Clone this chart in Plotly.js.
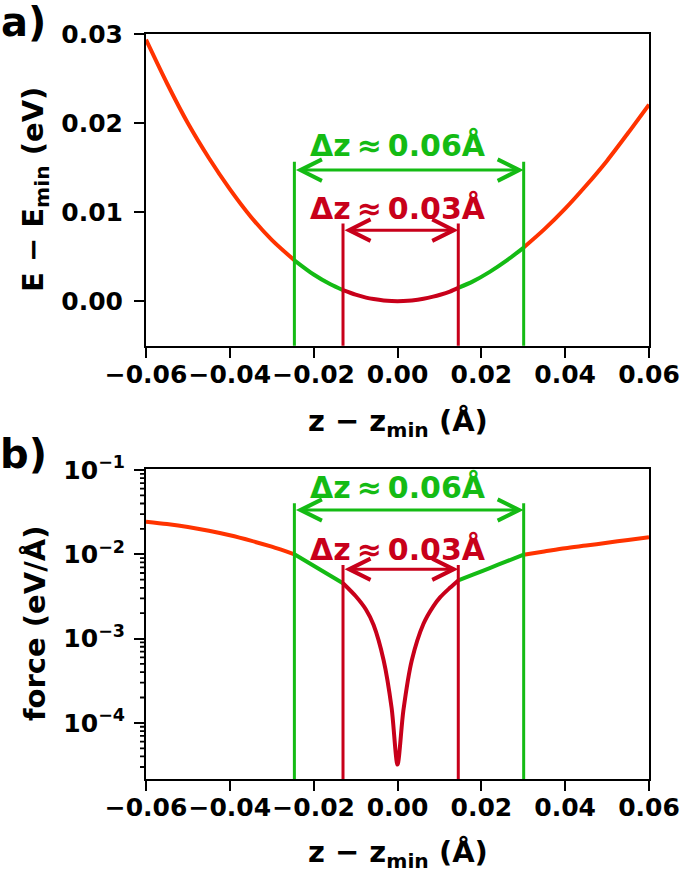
<!DOCTYPE html>
<html>
<head>
<meta charset="utf-8">
<script src="https://cdn.plot.ly/plotly-3.0.1.min.js"></script>
<style>html,body{margin:0;padding:0;background:#fff;}#chart{width:680px;height:873px;}</style>
</head>
<body>
<div id="chart"></div>
<script>
// ---- data ----
const zVals = [-0.06, -0.055, -0.05, -0.045, -0.04, -0.035, -0.03, -0.0246, -0.02, -0.016, -0.013,
  -0.01, -0.0075, -0.0057, -0.0033, -0.0014, 0, 0.0014, 0.0034, 0.0062, 0.0085, 0.0102, 0.0125, 0.0145,
  0.018, 0.022, 0.026, 0.0301, 0.035, 0.04, 0.045, 0.05, 0.055, 0.06];
const energy = [0.0294, 0.0245, 0.0200, 0.0161, 0.0126, 0.0095, 0.0069, 0.0046, 0.0030, 0.0019, 0.00125,
  0.00074, 0.00041, 0.00024, 0.000079, 0.000014, 0, 0.000014, 0.0000825, 0.000273, 0.00051, 0.00073, 0.00109, 0.0015,
  0.00223, 0.0033, 0.00456, 0.00603, 0.00807, 0.0104, 0.0130, 0.0158, 0.0189, 0.0221];
const force = [0.0244, 0.0229, 0.0211, 0.0190, 0.0168, 0.0145, 0.0123, 0.0100, 0.0073, 0.00557, 0.00454,
  0.0032, 0.0022, 0.00145, 0.00055, 0.00015, 0.000032, 0.00014, 0.00055, 0.0015, 0.0024, 0.0031, 0.0040, 0.0049,
  0.00574, 0.00687, 0.00824, 0.0099, 0.0108, 0.0118, 0.0127, 0.0137, 0.0148, 0.0159];
const greenBounds = [-0.0246, 0.0301];
const redBounds = [-0.013, 0.0145];
const xTicks = [-0.06, -0.04, -0.02, 0.00, 0.02, 0.04, 0.06];
const xTickText = ['\u22120.06', '\u22120.04', '\u22120.02', '0.00', '0.02', '0.04', '0.06'];
const eTicks = [0.00, 0.01, 0.02, 0.03];
const eTickText = ['0.00', '0.01', '0.02', '0.03'];
const fTicks = [1e-4, 1e-3, 1e-2, 1e-1];
const fTickText = ['10<sup>\u22124</sup>', '10<sup>\u22123</sup>', '10<sup>\u22122</sup>', '10<sup>\u22121</sup>'];
const fMinorDigits = [2, 3, 4, 5, 6, 7, 8, 9];
const fMinorDecades = [1e-5, 1e-4, 1e-3, 1e-2];
// annotation heights (E in eV, force in eV/Å)
const eGreenTop = 0.01567, eGreenArrow = 0.01474, eGreenText = 0.01755;
const eRedTop = 0.00874, eRedArrow = 0.00799, eRedText = 0.01046;
const fGreenTop = 0.0403, fGreenArrow = 0.0335, fGreenText = 0.0632;
const fRedTop = 0.00746, fRedArrow = 0.00664, fRedText = 0.01156;
const labelGreen = '\u0394z\u2009\u2248\u20090.06\u00c5';
const labelRed = '\u0394z\u2009\u2248\u20090.03\u00c5';

// ---- styling ----
const C_OUT = '#ff3300', C_GREEN = '#14bb14', C_RED = '#c8001a';
const FONT = 'DejaVu Sans';
const W = 680, H = 873;
const xDom = [146 / W, 649 / W];
const yDomTop = [1 - 345.7 / H, 1 - 34.3 / H];
const yDomBot = [1 - 779.3 / H, 1 - 469.3 / H];
const LOGRANGE = [-4.669, -0.992];

function seg(ys, lo, hi) {
  const xs = [], out = [];
  zVals.forEach((z, i) => { if (z >= lo - 1e-12 && z <= hi + 1e-12) { xs.push(z); out.push(ys[i]); } });
  return {xs, out};
}
const segDefs = [
  [-1, greenBounds[0], C_OUT], [greenBounds[0], redBounds[0], C_GREEN], [redBounds[0], redBounds[1], C_RED],
  [redBounds[1], greenBounds[1], C_GREEN], [greenBounds[1], 1, C_OUT]
];
const traces = [];
[[energy, 'x', 'y'], [force, 'x2', 'y2']].forEach(([ys, xa, ya]) => {
  segDefs.forEach(([lo, hi, col]) => {
    const s = seg(ys, lo, hi);
    traces.push({x: s.xs, y: s.out, xaxis: xa, yaxis: ya, mode: 'lines', type: 'scatter',
      line: {color: col, width: 4, shape: 'spline', smoothing: 0.8}, hoverinfo: 'skip', showlegend: false});
  });
});
function vline(xv, y0, y1, col, xa, ya) {
  traces.push({x: [xv, xv], y: [y0, y1], xaxis: xa, yaxis: ya, mode: 'lines', type: 'scatter',
    line: {color: col, width: 3}, hoverinfo: 'skip', showlegend: false});
}
greenBounds.forEach(b => vline(b, -0.006, eGreenTop, C_GREEN, 'x', 'y'));
redBounds.forEach(b => vline(b, -0.006, eRedTop, C_RED, 'x', 'y'));
greenBounds.forEach(b => vline(b, 1e-6, fGreenTop, C_GREEN, 'x2', 'y2'));
redBounds.forEach(b => vline(b, 1e-6, fRedTop, C_RED, 'x2', 'y2'));

// minor ticks of the log axis (2..9 x 10^n): short lines in a narrow strip subplot left of the spine
const mx = [], my = [];
fMinorDecades.forEach(d => fMinorDigits.forEach(m => {
  const v = d * m;
  if (Math.log10(v) > LOGRANGE[0] && Math.log10(v) < LOGRANGE[1]) { mx.push(0, 1, null); my.push(v, v, null); }
}));
traces.push({x: mx, y: my, xaxis: 'x3', yaxis: 'y2', mode: 'lines', type: 'scatter',
  line: {color: 'black', width: 1.8}, hoverinfo: 'skip', showlegend: false, connectgaps: false});

function arrow(bounds, yv, col, xa, ya) {
  return {x: bounds[1], y: yv, ax: bounds[0], ay: yv, xref: xa, yref: ya, axref: xa, ayref: ya,
    text: '', showarrow: true, arrowside: 'end+start', arrowhead: 5, startarrowhead: 5,
    arrowsize: 1.4, startarrowsize: 1.4, arrowwidth: 3, arrowcolor: col, standoff: 0, startstandoff: 0};
}
function label(txt, xv, yv, col, xa, ya) {
  return {x: xv, y: yv, xref: xa, yref: ya, text: txt, showarrow: false, xanchor: 'center', yanchor: 'middle',
    font: {family: FONT, size: 30, color: col, weight: 'bold'}};
}
function ptxt(txt, px, py, size, angle) {
  return {x: px / W, y: 1 - py / H, xref: 'paper', yref: 'paper', text: txt, showarrow: false,
    xanchor: 'center', yanchor: 'middle', textangle: angle || 0,
    font: {family: FONT, size: size, color: 'black', weight: 'bold'}};
}
const L10 = Math.log10;
const annotations = [
  arrow(greenBounds, eGreenArrow, C_GREEN, 'x', 'y'),
  arrow(redBounds, eRedArrow, C_RED, 'x', 'y'),
  label(labelGreen, 0, eGreenText, C_GREEN, 'x', 'y'),
  label(labelRed, 0, eRedText, C_RED, 'x', 'y'),
  arrow(greenBounds, L10(fGreenArrow), C_GREEN, 'x2', 'y2'),
  arrow(redBounds, L10(fRedArrow), C_RED, 'x2', 'y2'),
  label(labelGreen, 0, L10(fGreenText), C_GREEN, 'x2', 'y2'),
  label(labelRed, 0, L10(fRedText), C_RED, 'x2', 'y2'),
  ptxt('a)', 23, 22, 40),
  ptxt('b)', 23, 454, 40),
  ptxt('z \u2212 z<sub>min</sub> (\u00c5)', 397.5, 423, 29),
  ptxt('z \u2212 z<sub>min</sub> (\u00c5)', 397.5, 854, 29),
  ptxt('E \u2212 E<sub>min</sub> (eV)', 35, 190, 29, -90),
  ptxt('force (eV/\u00c5)', 35, 624, 29, -90)
];

const axBase = {showline: true, linecolor: 'black', linewidth: 2, mirror: true, ticks: 'outside',
  ticklen: 10, tickwidth: 2, tickcolor: 'black', showgrid: false, zeroline: false, tickangle: 0,
  tickfont: {family: FONT, size: 25, color: 'black', weight: 'bold'}};
const layout = {
  width: W, height: H, margin: {l: 0, r: 0, t: 0, b: 0}, paper_bgcolor: 'white', plot_bgcolor: 'rgba(0,0,0,0)',
  font: {family: FONT, size: 25, color: 'black', weight: 'bold'}, showlegend: false,
  xaxis: Object.assign({}, axBase, {domain: xDom, range: [-0.06, 0.06], anchor: 'y',
    tickmode: 'array', tickvals: xTicks, ticktext: xTickText, ticklabelstandoff: -5}),
  yaxis: Object.assign({}, axBase, {domain: yDomTop, range: [-0.005, 0.03], anchor: 'x',
    tickmode: 'array', tickvals: eTicks, ticktext: eTickText, ticklabelstandoff: 6}),
  xaxis2: Object.assign({}, axBase, {domain: xDom, range: [-0.06, 0.06], anchor: 'y2',
    tickmode: 'array', tickvals: xTicks, ticktext: xTickText, ticklabelstandoff: -5}),
  yaxis2: Object.assign({}, axBase, {domain: yDomBot, type: 'log', range: LOGRANGE, anchor: 'x2',
    tickmode: 'array', tickvals: fTicks, ticktext: fTickText, ticklabelstandoff: 4}),
  xaxis3: {domain: [xDom[0] - 6 / W, xDom[0] - 0.5 / W], range: [0, 1], anchor: 'y2', visible: false,
    showgrid: false, zeroline: false, fixedrange: true},
  annotations: annotations
};
Plotly.newPlot('chart', traces, layout, {staticPlot: true, displayModeBar: false});
</script>
</body>
</html>
